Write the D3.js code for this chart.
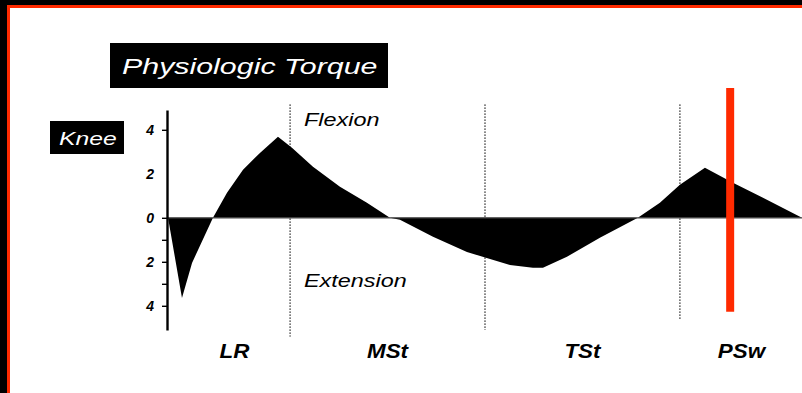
<!DOCTYPE html>
<html>
<head>
<meta charset="utf-8">
<script src="https://cdn.jsdelivr.net/npm/d3@7/dist/d3.min.js"></script>
<style>
  html, body { margin: 0; padding: 0; background: #000; }
  svg { display: block; }
  text { font-family: "Liberation Sans", Arial, Helvetica, sans-serif; }
</style>
</head>
<body>
<svg id="chart" width="802" height="393"></svg>
<script>
// Knee torque across stance (% of gait cycle), positive = flexion, negative = extension
const gaitPct = [0, 0.1, 1.46, 2.44, 4.48, 5.85, 7.41, 9.06, 10.82, 12.18, 14.23, 16.86, 19.49,
  21.73, 22.71, 25.93, 29.24, 31.09, 33.43, 35.67, 36.65, 38.99, 42.2, 45.9, 48.05, 50.0,
  52.44, 55.17, 58.48, 61.9];
const torque = [0, 0, -3.64, -2.05, 0, 1.14, 2.18, 2.95, 3.68, 3.18, 2.32, 1.41, 0.68,
  0, -0.09, -0.86, -1.55, -1.82, -2.14, -2.27, -2.27, -1.77, -0.91, 0, 0.68, 1.5,
  2.27, 1.59, 0.82, 0];

// Gait phases and their boundaries
const phaseNames = ["LR", "MSt", "TSt", "PSw"];
const phaseStart = [0, 12, 31, 50];
const phaseEnd = [12, 31, 50, 62];
const phaseDividers = [12, 31, 50];

// Y axis ticks
const tickValues = [4, 2, 0, -1, -2, -3, -4];
const labelledTicks = [4, 2, 0, -2, -4];

// Highlight marker
const markerPct = 54.9;
const markerRange = [5.9, -4.27];

const svg = d3.select("#chart");
const W = 802, H = 393;

// frame
svg.append("rect").attr("width", W).attr("height", H).attr("fill", "#000");
svg.append("rect").attr("x", 7).attr("y", 5).attr("width", W - 7).attr("height", H - 5).attr("fill", "#ff2a00");
svg.append("rect").attr("x", 10).attr("y", 8).attr("width", W - 10).attr("height", H - 8).attr("fill", "#fff");

const x = d3.scaleLinear().domain([0, 62]).range([167, 803]);
const y = d3.scaleLinear().domain([-5.1, 4.9]).range([330, 110]);

// stretch text horizontally by factor k
function stretch(sel, k) {
  sel.each(function () {
    const w = this.getComputedTextLength();
    d3.select(this).attr("textLength", w * k).attr("lengthAdjust", "spacingAndGlyphs");
  });
  return sel;
}

// phase dividers
svg.append("g").selectAll("line").data(phaseDividers).join("line")
  .attr("x1", d => x(d)).attr("x2", d => x(d))
  .attr("y1", y(5.15)).attr("y2", (d, i) => y([-5.4, -5.1, -4.6][i]))
  .attr("stroke", "#222").attr("stroke-width", 1.4)
  .attr("stroke-dasharray", "1.2,1.8");

// torque area
const pts = gaitPct.map((p, i) => [p, torque[i]]);
svg.append("path").datum(pts)
  .attr("d", d3.area().x(d => x(d[0])).y0(y(0)).y1(d => y(d[1])).curve(d3.curveLinear))
  .attr("fill", "#000");

// zero line
svg.append("line")
  .attr("x1", x(0)).attr("x2", x(62)).attr("y1", y(0)).attr("y2", y(0))
  .attr("stroke", "#444").attr("stroke-width", 1.2);

// y axis
const axis = d3.axisLeft(y).tickValues(tickValues).tickSize(5).tickSizeOuter(0)
  .tickFormat(d => labelledTicks.includes(d) ? Math.abs(d) : "");
const gA = svg.append("g").attr("transform", `translate(${x(0)},0)`).call(axis);
gA.select(".domain").attr("stroke", "#000").attr("stroke-width", 2.4);
gA.selectAll(".tick line").attr("stroke", "#000").attr("stroke-width", 1.4)
  .attr("opacity", d => d === 2 ? 0 : 1);
gA.selectAll(".tick text")
  .attr("x", -13).attr("fill", "#000")
  .style("font-family", "'Liberation Sans', Arial, sans-serif")
  .style("font-size", "14px").style("font-style", "italic").style("font-weight", "bold");

// marker
svg.append("rect")
  .attr("x", x(markerPct) - 4).attr("width", 8)
  .attr("y", y(markerRange[0])).attr("height", y(markerRange[1]) - y(markerRange[0]))
  .attr("fill", "#ff2a00");

// title box
svg.append("rect").attr("x", 110).attr("y", 43).attr("width", 278).attr("height", 45).attr("fill", "#000");
stretch(svg.append("text").attr("x", 122).attr("y", 74)
  .attr("fill", "#fff").style("font-size", "22px").style("font-style", "italic")
  .text("Physiologic Torque"), 1.38);

// joint label
svg.append("rect").attr("x", 50).attr("y", 121).attr("width", 74).attr("height", 33).attr("fill", "#000");
stretch(svg.append("text").attr("x", 59).attr("y", 145)
  .attr("fill", "#fff").style("font-size", "19px").style("font-style", "italic")
  .text("Knee"), 1.3);

// direction labels
stretch(svg.append("text").attr("x", 304).attr("y", 126)
  .style("font-size", "18px").style("font-style", "italic").text("Flexion"), 1.3);
stretch(svg.append("text").attr("x", 304).attr("y", 287)
  .style("font-size", "18px").style("font-style", "italic").text("Extension"), 1.3);

// phase labels
svg.append("g").selectAll("text").data(phaseNames).join("text")
  .attr("x", (d, i) => x((phaseStart[i] + phaseEnd[i]) / 2) + (i === 0 ? 6 : 0))
  .attr("y", 358)
  .attr("text-anchor", "middle")
  .style("font-size", "20px").style("font-style", "italic").style("font-weight", "bold")
  .text(d => d)
  .call(s => stretch(s, 1.12));
</script>
</body>
</html>
